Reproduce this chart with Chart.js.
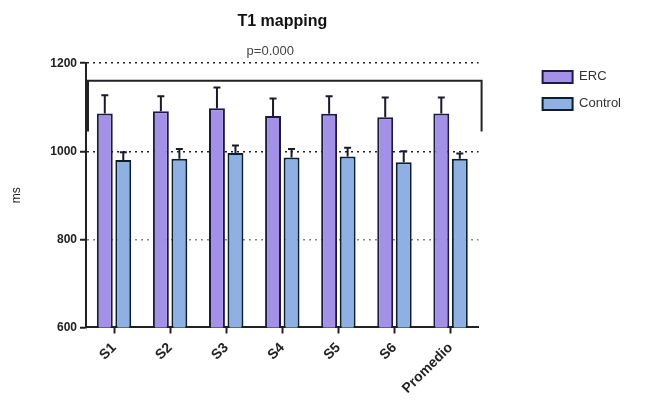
<!DOCTYPE html>
<html>
<head>
<meta charset="utf-8">
<script src="https://cdn.jsdelivr.net/npm/chart.js@4.4.0/dist/chart.umd.min.js"></script>
<style>
  body { margin: 0; background: #fff; }
  #wrap { width: 651px; height: 413px; }
</style>
</head>
<body>
<div id="wrap"><canvas id="myChart"></canvas></div>
<script>
// data
var labels = ['S1', 'S2', 'S3', 'S4', 'S5', 'S6', 'Promedio'];
var ercMean = [1086, 1091, 1098, 1080, 1085, 1077, 1086];
var ercSd = [41, 34, 47, 40, 40, 45, 36];
var ctrlMean = [980, 983, 996, 986, 988, 975, 983];
var ctrlSd = [18, 22, 17, 19, 20, 25, 12];
var yTicks = [600, 800, 1000, 1200];
var pText = 'p=0.000';
var bracketTop = 1160;
var bracketBottom = 1045;

var errSets = [ercSd, ctrlSd];

var errorBars = {
  id: 'errorBars',
  afterDatasetsDraw: function(chart) {
    var ctx = chart.ctx;
    var y = chart.scales.y;
    ctx.save();
    ctx.strokeStyle = '#1a1a2a';
    ctx.lineWidth = 2;
    chart.data.datasets.forEach(function(ds, i) {
      var meta = chart.getDatasetMeta(i);
      meta.data.forEach(function(bar, j) {
        var top = y.getPixelForValue(ds.data[j] + errSets[i][j]);
        ctx.beginPath();
        ctx.moveTo(bar.x, bar.y);
        ctx.lineTo(bar.x, top);
        ctx.moveTo(bar.x - 3.5, top);
        ctx.lineTo(bar.x + 3.5, top);
        ctx.stroke();
      });
    });
    ctx.restore();
  }
};

var bracket = {
  id: 'bracket',
  afterDraw: function(chart) {
    var ctx = chart.ctx;
    var y = chart.scales.y;
    var a = chart.chartArea;
    var y1 = y.getPixelForValue(bracketTop);
    var y2 = y.getPixelForValue(bracketBottom);
    var xl = a.left + 2, xr = a.right + 3;
    ctx.save();
    ctx.strokeStyle = '#222';
    ctx.lineWidth = 2;
    ctx.beginPath();
    ctx.moveTo(xl, y2);
    ctx.lineTo(xl, y1);
    ctx.lineTo(xr, y1);
    ctx.lineTo(xr, y2);
    ctx.stroke();
    ctx.fillStyle = '#444';
    ctx.font = '13px Arial';
    ctx.textAlign = 'center';
    ctx.textBaseline = 'alphabetic';
    ctx.fillText(pText, (a.left + a.right) / 2 - 12, a.top - 8);
    ctx.restore();
  }
};

new Chart(document.getElementById('myChart').getContext('2d'), {
  type: 'bar',
  data: {
    labels: labels,
    datasets: [{
      label: 'ERC',
      data: ercMean,
      backgroundColor: '#a391e8',
      borderColor: '#1c1a45',
      borderWidth: 2,
      borderSkipped: 'bottom',
      categoryPercentage: 0.66,
      barPercentage: 0.86
    }, {
      label: 'Control',
      data: ctrlMean,
      backgroundColor: '#8fb0e2',
      borderColor: '#0f1e2c',
      borderWidth: 2,
      borderSkipped: 'bottom',
      categoryPercentage: 0.66,
      barPercentage: 0.86
    }]
  },
  options: {
    responsive: true,
    maintainAspectRatio: false,
    animation: false,
    layout: { padding: { left: 6, right: 20, top: 4, bottom: 10 } },
    plugins: {
      title: {
        display: true,
        text: 'T1 mapping',
        fullSize: false,
        color: '#111',
        font: { family: 'Arial', size: 16, weight: 'bold' },
        padding: { top: 8, bottom: 32 }
      },
      legend: {
        position: 'right',
        align: 'start',
        title: { display: true, text: ' ', padding: { top: 50, bottom: 0 }, font: { size: 2 } },
        labels: {
          boxWidth: 30,
          boxHeight: 12,
          color: '#333',
          font: { family: 'Arial', size: 13 },
          padding: 14
        }
      },
      tooltip: { enabled: false }
    },
    scales: {
      x: {
        grid: { display: true, drawOnChartArea: false, offset: false, tickLength: 6, tickColor: '#222', tickWidth: 2 },
        border: { color: '#222', width: 2 },
        ticks: {
          maxRotation: 45, minRotation: 45,
          padding: 6,
          color: '#222',
          font: { family: 'Arial', size: 14, weight: 'bold' }
        }
      },
      y: {
        min: 600, max: 1200,
        afterBuildTicks: function(scale) {
          scale.ticks = yTicks.map(function(v) { return { value: v }; });
        },
        afterFit: function(scale) { scale.width = 80; },
        grid: {
          color: function(c) {
            if (c.tick.value === 600) return 'rgba(0,0,0,0)';
            if (c.tick.value === 800) return '#888';
            return '#222';
          },
          lineWidth: 1.5,
          tickLength: 6,
          tickColor: '#222',
          tickWidth: 2,
          tickBorderDash: []
        },
        border: { color: '#222', width: 2, dash: [2, 4] },
        ticks: {
          color: '#222',
          padding: 3,
          callback: function(v) { return String(v); },
          font: { family: 'Arial', size: 12, weight: 'bold' }
        },
        title: {
          display: true,
          text: 'ms',
          color: '#222',
          font: { family: 'Arial', size: 12 },
          padding: { top: 3, bottom: 10 }
        }
      },
      gap: {
        type: 'linear',
        position: 'right',
        display: true,
        grid: { display: false },
        border: { display: false },
        ticks: { display: false },
        afterFit: function(scale) { scale.width = 50; }
      }
    }
  },
  plugins: [errorBars, bracket]
});
</script>
</body>
</html>
